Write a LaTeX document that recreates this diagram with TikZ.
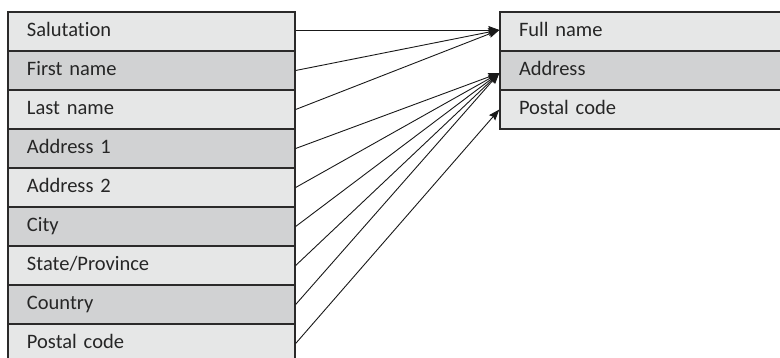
\documentclass[tikz,border=0pt]{standalone}
\usepackage{fontspec}
\setmainfont{Carlito}[Ligatures={NoCommon}]
\usetikzlibrary{arrows.meta}
\definecolor{rowlight}{HTML}{E6E7E7}
\definecolor{rowdark}{HTML}{D1D2D3}
\definecolor{edge}{HTML}{2B2A2A}
\begin{document}
\begin{tikzpicture}[x=1pt,y=-1pt,
  rowbox/.style={draw=edge, line width=1.3pt, rectangle, minimum height=39pt, inner xsep=19pt, inner ysep=0pt,
    text height=14pt, text depth=3.5pt, align=left, font=\fontsize{20.5}{24}\selectfont, text=black!85},
  leftrow/.style={rowbox, minimum width=287pt, text width=249pt},
  rightrow/.style={rowbox, minimum width=282pt, text width=244pt},
  light/.style={fill=rowlight},
  dark/.style={fill=rowdark},
  link/.style={draw=black!90, line width=0.9pt, -{Stealth[length=11pt,width=8pt,inset=1.5pt]}}
]
\useasboundingbox (0,0) rectangle (780,358);
% left table
\node[leftrow, light] (l1) at (151.5,31.5) {Salutation};
\node[leftrow, dark]  (l2) at (151.5,70.5) {First name};
\node[leftrow, light] (l3) at (151.5,109.5) {Last name};
\node[leftrow, dark]  (l4) at (151.5,148.5) {Address 1};
\node[leftrow, light] (l5) at (151.5,187.5) {Address 2};
\node[leftrow, dark]  (l6) at (151.5,226.5) {City};
\node[leftrow, light] (l7) at (151.5,265.5) {State/Province};
\node[leftrow, dark]  (l8) at (151.5,304.5) {Country};
\node[leftrow, light] (l9) at (151.5,343.5) {Postal code};
% right table
\node[rightrow, light] (r1) at (641,31.5) {Full name};
\node[rightrow, dark]  (r2) at (641,70.5) {Address};
\node[rightrow, light] (r3) at (641,109.5) {Postal code};
% connectors
\coordinate (t1) at ([yshift=1.5pt]r1.west);
\coordinate (t2) at ([yshift=-2.5pt]r2.west);
\coordinate (t3) at (r3.west);
\draw[link] (l1.east |- t1) -- (t1);
\draw[link] (l2.east) -- (t1);
\draw[link] (l3.east) -- (t1);
\draw[link] (l4.east) -- (t2);
\draw[link] (l5.east) -- (t2);
\draw[link] (l6.east) -- (t2);
\draw[link] (l7.east) -- (t2);
\draw[link] (l8.east) -- (t2);
\draw[link] (l9.east) -- (t3);
\end{tikzpicture}
\end{document}
